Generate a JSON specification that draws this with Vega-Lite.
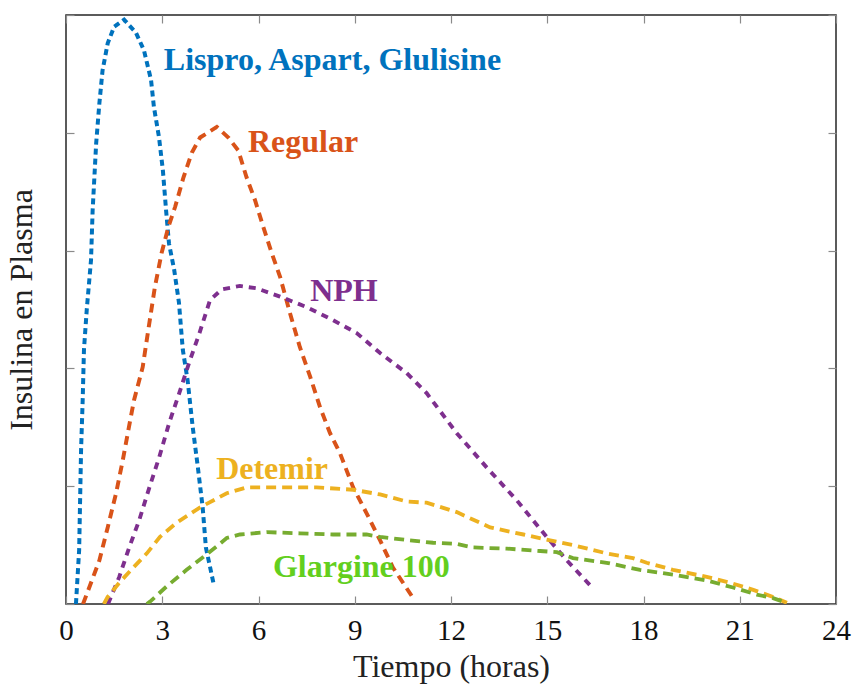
{
  "$schema": "https://vega.github.io/schema/vega-lite/v6.json",
  "width": 770,
  "height": 589,
  "autosize": {"type": "none"},
  "padding": {"left": 66, "top": 15, "right": 20, "bottom": 84},
  "background": "white",
  "config": {
    "view": {"stroke": "#262626", "strokeWidth": 1.5},
    "font": "Liberation Serif",
    "axis": {"domain": false, "grid": false, "labelFont": "Liberation Serif", "titleFont": "Liberation Serif", "labelColor": "#111", "titleColor": "#222", "titleFontWeight": "normal", "tickColor": "#8a8a8a", "tickWidth": 1.2}
  },
  "datasets": {
    "curves": [
      {"s": "Lispro", "t": 0.31, "v": 0},
      {"s": "Lispro", "t": 0.41, "v": 0.46},
      {"s": "Lispro", "t": 0.47, "v": 1.31},
      {"s": "Lispro", "t": 0.52, "v": 1.73},
      {"s": "Lispro", "t": 0.56, "v": 2.16},
      {"s": "Lispro", "t": 0.65, "v": 2.51},
      {"s": "Lispro", "t": 0.78, "v": 2.92},
      {"s": "Lispro", "t": 0.83, "v": 3.34},
      {"s": "Lispro", "t": 0.94, "v": 3.91},
      {"s": "Lispro", "t": 1.04, "v": 4.25},
      {"s": "Lispro", "t": 1.14, "v": 4.53},
      {"s": "Lispro", "t": 1.30, "v": 4.76},
      {"s": "Lispro", "t": 1.50, "v": 4.90},
      {"s": "Lispro", "t": 1.81, "v": 4.96},
      {"s": "Lispro", "t": 2.18, "v": 4.85},
      {"s": "Lispro", "t": 2.43, "v": 4.70},
      {"s": "Lispro", "t": 2.65, "v": 4.45},
      {"s": "Lispro", "t": 2.74, "v": 4.22},
      {"s": "Lispro", "t": 2.90, "v": 3.96},
      {"s": "Lispro", "t": 3.02, "v": 3.68},
      {"s": "Lispro", "t": 3.12, "v": 3.34},
      {"s": "Lispro", "t": 3.21, "v": 3.06},
      {"s": "Lispro", "t": 3.37, "v": 2.84},
      {"s": "Lispro", "t": 3.52, "v": 2.56},
      {"s": "Lispro", "t": 3.64, "v": 2.16},
      {"s": "Lispro", "t": 3.79, "v": 1.90},
      {"s": "Lispro", "t": 3.95, "v": 1.50},
      {"s": "Lispro", "t": 4.11, "v": 1.16},
      {"s": "Lispro", "t": 4.26, "v": 0.82},
      {"s": "Lispro", "t": 4.36, "v": 0.48},
      {"s": "Lispro", "t": 4.61, "v": 0.16},
      {"s": "Regular", "t": 0.53, "v": 0},
      {"s": "Regular", "t": 0.78, "v": 0.18},
      {"s": "Regular", "t": 1.04, "v": 0.37},
      {"s": "Regular", "t": 1.30, "v": 0.65},
      {"s": "Regular", "t": 1.56, "v": 0.94},
      {"s": "Regular", "t": 1.77, "v": 1.22},
      {"s": "Regular", "t": 1.96, "v": 1.50},
      {"s": "Regular", "t": 2.12, "v": 1.73},
      {"s": "Regular", "t": 2.39, "v": 2.01},
      {"s": "Regular", "t": 2.55, "v": 2.30},
      {"s": "Regular", "t": 2.77, "v": 2.69},
      {"s": "Regular", "t": 2.98, "v": 2.98},
      {"s": "Regular", "t": 3.19, "v": 3.20},
      {"s": "Regular", "t": 3.40, "v": 3.37},
      {"s": "Regular", "t": 3.66, "v": 3.62},
      {"s": "Regular", "t": 3.92, "v": 3.83},
      {"s": "Regular", "t": 4.18, "v": 3.96},
      {"s": "Regular", "t": 4.70, "v": 4.05},
      {"s": "Regular", "t": 5.06, "v": 3.96},
      {"s": "Regular", "t": 5.37, "v": 3.85},
      {"s": "Regular", "t": 5.63, "v": 3.62},
      {"s": "Regular", "t": 5.89, "v": 3.43},
      {"s": "Regular", "t": 6.15, "v": 3.20},
      {"s": "Regular", "t": 6.41, "v": 2.98},
      {"s": "Regular", "t": 6.67, "v": 2.78},
      {"s": "Regular", "t": 6.98, "v": 2.47},
      {"s": "Regular", "t": 7.29, "v": 2.18},
      {"s": "Regular", "t": 7.61, "v": 1.93},
      {"s": "Regular", "t": 7.92, "v": 1.67},
      {"s": "Regular", "t": 8.23, "v": 1.45},
      {"s": "Regular", "t": 8.54, "v": 1.28},
      {"s": "Regular", "t": 8.95, "v": 0.99},
      {"s": "Regular", "t": 9.37, "v": 0.77},
      {"s": "Regular", "t": 9.79, "v": 0.54},
      {"s": "Regular", "t": 10.19, "v": 0.31},
      {"s": "Regular", "t": 10.82, "v": 0.05},
      {"s": "NPH", "t": 1.31, "v": 0},
      {"s": "NPH", "t": 1.66, "v": 0.23},
      {"s": "NPH", "t": 1.97, "v": 0.48},
      {"s": "NPH", "t": 2.28, "v": 0.71},
      {"s": "NPH", "t": 2.60, "v": 0.99},
      {"s": "NPH", "t": 2.91, "v": 1.25},
      {"s": "NPH", "t": 3.22, "v": 1.54},
      {"s": "NPH", "t": 3.53, "v": 1.79},
      {"s": "NPH", "t": 3.84, "v": 2.05},
      {"s": "NPH", "t": 4.16, "v": 2.30},
      {"s": "NPH", "t": 4.49, "v": 2.58},
      {"s": "NPH", "t": 4.85, "v": 2.67},
      {"s": "NPH", "t": 5.42, "v": 2.70},
      {"s": "NPH", "t": 5.94, "v": 2.68},
      {"s": "NPH", "t": 6.67, "v": 2.61},
      {"s": "NPH", "t": 7.50, "v": 2.52},
      {"s": "NPH", "t": 8.32, "v": 2.41},
      {"s": "NPH", "t": 9.06, "v": 2.30},
      {"s": "NPH", "t": 9.79, "v": 2.13},
      {"s": "NPH", "t": 10.62, "v": 1.96},
      {"s": "NPH", "t": 11.24, "v": 1.79},
      {"s": "NPH", "t": 12.18, "v": 1.45},
      {"s": "NPH", "t": 13.11, "v": 1.16},
      {"s": "NPH", "t": 14.05, "v": 0.88},
      {"s": "NPH", "t": 14.98, "v": 0.57},
      {"s": "NPH", "t": 15.61, "v": 0.37},
      {"s": "NPH", "t": 16.40, "v": 0.14},
      {"s": "Detemir", "t": 1.18, "v": 0},
      {"s": "Detemir", "t": 1.30, "v": 0.06},
      {"s": "Detemir", "t": 1.66, "v": 0.18},
      {"s": "Detemir", "t": 2.03, "v": 0.29},
      {"s": "Detemir", "t": 2.52, "v": 0.43},
      {"s": "Detemir", "t": 2.93, "v": 0.57},
      {"s": "Detemir", "t": 3.45, "v": 0.69},
      {"s": "Detemir", "t": 4.18, "v": 0.82},
      {"s": "Detemir", "t": 5.01, "v": 0.94},
      {"s": "Detemir", "t": 5.63, "v": 0.99},
      {"s": "Detemir", "t": 6.76, "v": 0.99},
      {"s": "Detemir", "t": 7.81, "v": 0.99},
      {"s": "Detemir", "t": 8.95, "v": 0.97},
      {"s": "Detemir", "t": 9.79, "v": 0.93},
      {"s": "Detemir", "t": 10.62, "v": 0.87},
      {"s": "Detemir", "t": 11.24, "v": 0.86},
      {"s": "Detemir", "t": 12.18, "v": 0.78},
      {"s": "Detemir", "t": 13.22, "v": 0.65},
      {"s": "Detemir", "t": 14.26, "v": 0.59},
      {"s": "Detemir", "t": 15.09, "v": 0.54},
      {"s": "Detemir", "t": 15.80, "v": 0.50},
      {"s": "Detemir", "t": 16.85, "v": 0.43},
      {"s": "Detemir", "t": 17.67, "v": 0.39},
      {"s": "Detemir", "t": 18.10, "v": 0.35},
      {"s": "Detemir", "t": 18.92, "v": 0.29},
      {"s": "Detemir", "t": 19.97, "v": 0.23},
      {"s": "Detemir", "t": 20.70, "v": 0.18},
      {"s": "Detemir", "t": 21.42, "v": 0.12},
      {"s": "Detemir", "t": 22.04, "v": 0.06},
      {"s": "Detemir", "t": 22.47, "v": 0.01},
      {"s": "Glargine", "t": 2.52, "v": 0},
      {"s": "Glargine", "t": 2.62, "v": 0.02},
      {"s": "Glargine", "t": 3.14, "v": 0.15},
      {"s": "Glargine", "t": 3.76, "v": 0.29},
      {"s": "Glargine", "t": 4.28, "v": 0.40},
      {"s": "Glargine", "t": 4.70, "v": 0.49},
      {"s": "Glargine", "t": 5.01, "v": 0.56},
      {"s": "Glargine", "t": 5.42, "v": 0.59},
      {"s": "Glargine", "t": 6.26, "v": 0.61},
      {"s": "Glargine", "t": 7.29, "v": 0.60},
      {"s": "Glargine", "t": 8.32, "v": 0.59},
      {"s": "Glargine", "t": 9.37, "v": 0.59},
      {"s": "Glargine", "t": 9.79, "v": 0.57},
      {"s": "Glargine", "t": 10.72, "v": 0.54},
      {"s": "Glargine", "t": 11.44, "v": 0.52},
      {"s": "Glargine", "t": 12.18, "v": 0.51},
      {"s": "Glargine", "t": 12.69, "v": 0.48},
      {"s": "Glargine", "t": 13.74, "v": 0.47},
      {"s": "Glargine", "t": 14.78, "v": 0.45},
      {"s": "Glargine", "t": 15.30, "v": 0.44},
      {"s": "Glargine", "t": 15.80, "v": 0.39},
      {"s": "Glargine", "t": 16.85, "v": 0.35},
      {"s": "Glargine", "t": 17.89, "v": 0.29},
      {"s": "Glargine", "t": 18.92, "v": 0.25},
      {"s": "Glargine", "t": 19.97, "v": 0.20},
      {"s": "Glargine", "t": 20.79, "v": 0.14},
      {"s": "Glargine", "t": 21.53, "v": 0.08},
      {"s": "Glargine", "t": 22.04, "v": 0.05},
      {"s": "Glargine", "t": 22.35, "v": 0.02}
    ],
    "labels": [
      {"label": "Lispro, Aspart, Glulisine", "t": 3.05, "v": 4.62, "c": "#0072BD"},
      {"label": "Regular", "t": 5.67, "v": 3.92, "c": "#D95319"},
      {"label": "NPH", "t": 7.61, "v": 2.66, "c": "#7E2F8E"},
      {"label": "Detemir", "t": 4.68, "v": 1.15, "c": "#EDB120"},
      {"label": "Glargine 100", "t": 6.45, "v": 0.31, "c": "#63CF1E"}
    ]
  },
  "layer": [
    {
      "data": {"name": "curves"},
      "mark": {"type": "line", "clip": true},
      "encoding": {
        "x": {"field": "t", "type": "quantitative", "scale": {"domain": [0, 24], "nice": false, "zero": false},
              "axis": {"orient": "bottom", "values": [0, 3, 6, 9, 12, 15, 18, 21, 24], "tickSize": -8, "labelPadding": 20, "labelFontSize": 29, "labelFlush": false, "title": "Tiempo (horas)", "titleFontSize": 32, "titlePadding": 6}},
        "y": {"field": "v", "type": "quantitative", "scale": {"domain": [0, 5], "nice": false, "zero": false},
              "axis": {"orient": "left", "values": [0, 1, 2, 3, 4, 5], "tickSize": -8, "labels": false, "title": "Insulina en Plasma", "titleFontSize": 32, "titlePadding": 27}},
        "detail": {"field": "s"},
        "color": {"field": "s", "type": "nominal", "legend": null,
                  "scale": {"domain": ["Lispro", "Regular", "NPH", "Detemir", "Glargine"], "range": ["#0072BD", "#D95319", "#7E2F8E", "#EDB120", "#77AC30"]}},
        "strokeDash": {"field": "s", "type": "nominal", "legend": null,
                  "scale": {"domain": ["Lispro", "Regular", "NPH", "Detemir", "Glargine"], "range": [[6, 4], [9, 6], [7, 6], [10, 6], [10, 6]]}},
        "strokeWidth": {"field": "s", "type": "nominal", "legend": null,
                  "scale": {"domain": ["Lispro", "Regular", "NPH", "Detemir", "Glargine"], "range": [4, 3.8, 2.3, 3.8, 3.8]}}
      }
    },
    {
      "data": {"name": "curves"},
      "mark": {"type": "point", "opacity": 0},
      "encoding": {
        "x": {"field": "t", "type": "quantitative", "scale": {"domain": [0, 24], "nice": false, "zero": false},
              "axis": {"orient": "top", "values": [0, 3, 6, 9, 12, 15, 18, 21, 24], "tickSize": -8, "labels": false, "title": null}},
        "y": {"field": "v", "type": "quantitative", "scale": {"domain": [0, 5], "nice": false, "zero": false},
              "axis": {"orient": "right", "values": [0, 1, 2, 3, 4, 5], "tickSize": -8, "labels": false, "title": null}}
      }
    },
    {
      "data": {"name": "labels"},
      "mark": {"type": "text", "align": "left", "baseline": "middle", "font": "Liberation Serif", "fontWeight": "bold", "fontSize": 32},
      "encoding": {
        "x": {"field": "t", "type": "quantitative", "axis": null},
        "y": {"field": "v", "type": "quantitative", "axis": null},
        "text": {"field": "label"},
        "color": {"field": "c", "type": "nominal", "scale": null}
      }
    }
  ],
  "resolve": {"axis": {"x": "independent", "y": "independent"}}
}
